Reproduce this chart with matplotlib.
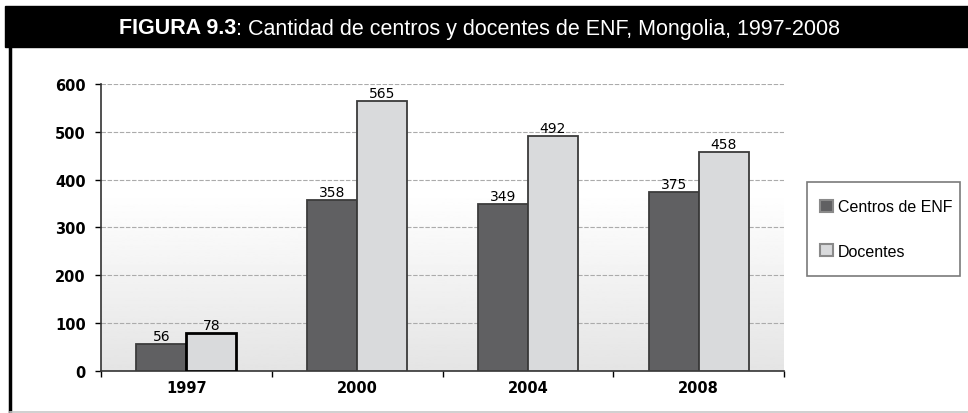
import numpy as np
import matplotlib
matplotlib.use("Agg")
import matplotlib.pyplot as plt
from matplotlib.patches import Rectangle, Patch

# Data
years = ["1997", "2000", "2004", "2008"]
centros = [56, 358, 349, 375]
docentes = [78, 565, 492, 458]
series_names = ["Centros de ENF", "Docentes"]
yticks = [0, 100, 200, 300, 400, 500, 600]

dark, light = "#606062", "#d9dadc"

fig = plt.figure(figsize=(9.68, 4.14), dpi=100)

# Black title band and frame lines
fig.patches.append(Rectangle((5 / 968, 1 - 48 / 414), 1, 41 / 414,
                             transform=fig.transFigure, color="black", zorder=0))
fig.lines.append(plt.Line2D([9.5 / 968, 9.5 / 968], [0, 1 - 48 / 414],
                            transform=fig.transFigure, color="black", lw=2.5))
fig.lines.append(plt.Line2D([9.5 / 968, 1], [1.2 / 414, 1.2 / 414],
                            transform=fig.transFigure, color="#c8c8c8", lw=1.2))
t1 = fig.text(119 / 968, 1 - 29 / 414, "FIGURA 9.3", color="white", fontsize=15.5,
              fontweight="bold", family="Liberation Sans", va="center", ha="left")
fig.canvas.draw()
bb = t1.get_window_extent()
fig.text(bb.x1 / 968, 1 - 29 / 414,
         ": Cantidad de centros y docentes de ENF, Mongolia, 1997-2008",
         color="white", fontsize=15.5, family="Liberation Sans", va="center", ha="left")

ax = fig.add_axes([101 / 968, 42.3 / 414, 683 / 968, 286.7 / 414])
x = np.arange(len(years))
w = 0.293

# gradient background (white on top, light grey at bottom)
grad = np.linspace(0.0, 1.0, 256)
grad = 0.895 + np.clip(grad * 1.6, 0, 1) * 0.105
ax.imshow(grad.reshape(-1, 1), cmap="gray", vmin=0, vmax=1, aspect="auto",
          extent=[-0.5, 3.5, 0, 600], origin="lower", zorder=0)

for yv in yticks[1:]:
    ax.axhline(yv, color="#ababab", lw=0.8, ls=(0, (4, 1.5)), zorder=1)

b1 = ax.bar(x - w / 2, centros, w, color=dark, edgecolor="#3c3c3c",
            lw=1.3, zorder=3)
b2 = ax.bar(x + w / 2, docentes, w, color=light, edgecolor="#3a3a3a",
            lw=1.3, zorder=3)
b2[0].set_edgecolor("black")
b2[0].set_linewidth(2)

for bars, vals in ((b1, centros), (b2, docentes)):
    for r, v in zip(bars, vals):
        ax.text(r.get_x() + r.get_width() / 2, v + 2, str(v), ha="center",
                va="bottom", fontsize=10, family="DejaVu Sans", zorder=4)

ax.set_xlim(-0.5, 3.5)
ax.set_ylim(0, 600)
ax.set_yticks(yticks)
ax.set_yticklabels([str(v) for v in yticks], fontsize=10.5, fontweight="bold")
ax.set_xticks(x)
ax.set_xticklabels(years, fontsize=10.5, fontweight="bold")
ax.set_xticks(np.arange(-0.5, 4, 1), minor=True)
ax.tick_params(axis="x", which="major", length=0, pad=7)
ax.tick_params(axis="x", which="minor", length=4, width=1, direction="out")
ax.tick_params(axis="y", length=4, width=1, pad=7)
for s in ("top", "right"):
    ax.spines[s].set_visible(False)
for s in ("left", "bottom"):
    ax.spines[s].set_color("#333333")
    ax.spines[s].set_linewidth(1.2)

# legend: frame drawn by hand so its size can follow the reference
fig.patches.append(Rectangle((807 / 968, 1 - 277 / 414), 153 / 968, 94 / 414,
                             transform=fig.transFigure, facecolor="white",
                             edgecolor="#7a7a7a", lw=1.2, zorder=1))
handles = [Patch(facecolor=dark, edgecolor="#8a8a8a", lw=1.5),
           Patch(facecolor=light, edgecolor="#8a8a8a", lw=1.5)]
leg = fig.legend(handles=handles, labels=series_names, loc="center left",
                 bbox_to_anchor=(820 / 968, 1 - 230 / 414),
                 prop={"family": "Liberation Sans", "size": 11.5},
                 frameon=False, handlelength=0.8, handleheight=0.8,
                 handletextpad=0.3, labelspacing=1.85, borderpad=0,
                 borderaxespad=0)

fig.savefig("out.png", dpi=100)
